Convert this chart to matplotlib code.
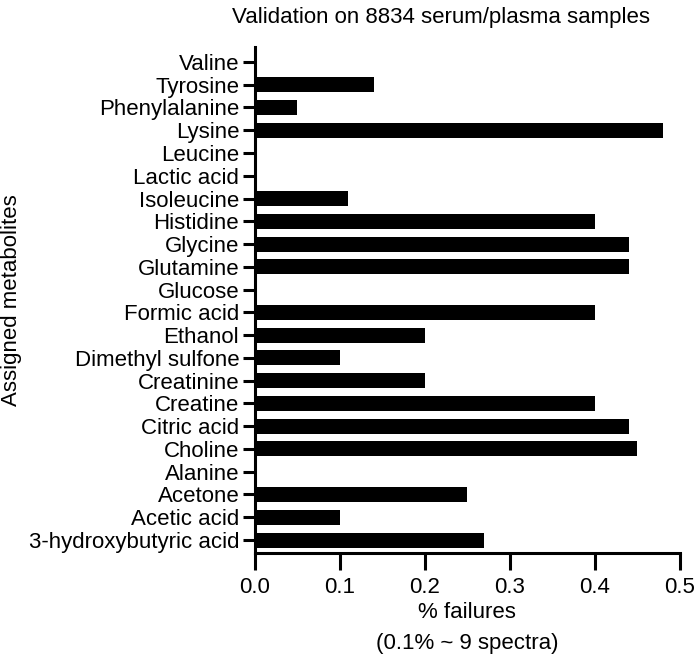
import matplotlib
matplotlib.use("Agg")
import matplotlib.pyplot as plt

metabolites = ["3-hydroxybutyric acid", "Acetic acid", "Acetone", "Alanine", "Choline",
               "Citric acid", "Creatine", "Creatinine", "Dimethyl sulfone", "Ethanol",
               "Formic acid", "Glucose", "Glutamine", "Glycine", "Histidine",
               "Isoleucine", "Lactic acid", "Leucine", "Lysine", "Phenylalanine",
               "Tyrosine", "Valine"]
failures = [0.27, 0.10, 0.25, 0.0, 0.45,
            0.44, 0.40, 0.20, 0.10, 0.20,
            0.40, 0.0, 0.44, 0.44, 0.40,
            0.11, 0.0, 0.0, 0.48, 0.05,
            0.14, 0.0]
xticks = [0.0, 0.1, 0.2, 0.3, 0.4, 0.5]

plt.rcParams['font.family'] = ['Liberation Sans', 'DejaVu Sans']

W, H = 696, 660
FS = 16
fig = plt.figure(figsize=(W/100, H/100), dpi=100)
left, right, top, bottom = 254.5, 679.5, 46.7, 553
ax = fig.add_axes([left/W, 1 - bottom/H, (right-left)/W, (bottom-top)/H])

y = list(range(len(metabolites)))
ax.barh(y, failures, height=0.66, color='black')
ax.set_xlim(0, 0.5)
ax.set_ylim(-0.57, len(metabolites) - 1 + 0.67)
ax.set_yticks(y)
ax.set_yticklabels(metabolites, fontsize=FS)
ax.set_xticks(xticks)
ax.set_xticklabels([f"{v:.1f}" for v in xticks], fontsize=FS)
for s in ['top', 'right']:
    ax.spines[s].set_visible(False)
for s in ['left', 'bottom']:
    ax.spines[s].set_linewidth(2.2)
ax.tick_params(axis='both', width=2.2, length=9, direction='out', pad=2)
ax.tick_params(axis='x', length=12, pad=5)

fig.text(441/W, 1 - 18/H, "Validation on 8834 serum/plasma samples", ha='center', va='center', fontsize=FS)
fig.text(467/W, 1 - 612/H, "% failures", ha='center', va='center', fontsize=FS)
fig.text(467/W, 1 - 643/H, "(0.1% ~ 9 spectra)", ha='center', va='center', fontsize=FS)
fig.text(12/W, 1 - 300/H, "Assigned metabolites", ha='center', va='center', rotation=90, fontsize=FS)

fig.savefig("out.png", dpi=100)
